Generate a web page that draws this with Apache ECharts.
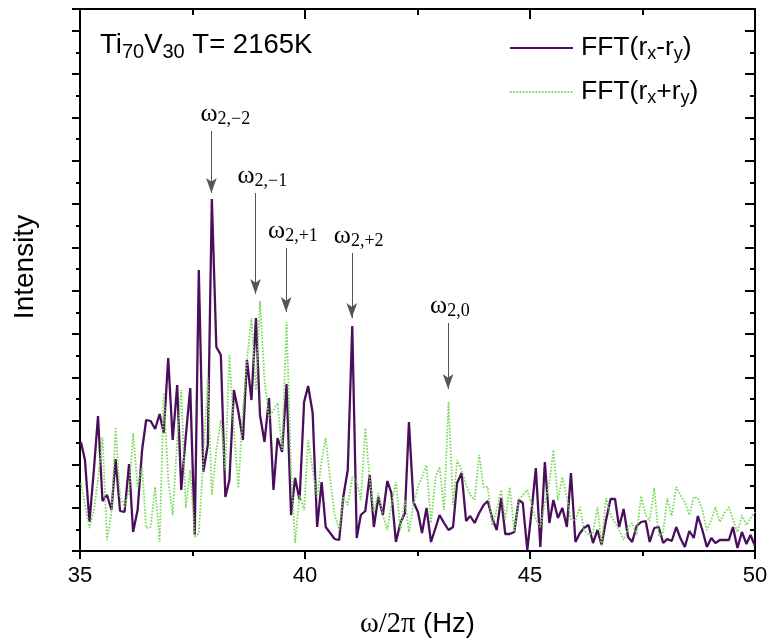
<!DOCTYPE html>
<html>
<head>
<meta charset="utf-8">
<script src="https://cdn.jsdelivr.net/npm/echarts@6/dist/echarts.min.js"></script>
<style>html,body{margin:0;padding:0;background:#fff}#c{width:769px;height:644px}</style>
</head>
<body>
<div id="c"></div>
<script>
// Frequency grid (Hz), read from the plotted vertices
const freq = [
35.02,35.11,35.21,35.31,35.40,35.50,35.60,35.70,35.79,35.89,
35.99,36.09,36.18,36.28,36.38,36.47,36.57,36.67,36.77,36.86,
36.96,37.06,37.16,37.25,37.35,37.45,37.55,37.64,37.74,37.84,
37.93,38.03,38.13,38.23,38.32,38.42,38.52,38.62,38.71,38.81,
38.91,39.00,39.10,39.20,39.30,39.39,39.49,39.59,39.69,39.78,
39.88,39.98,40.07,40.17,40.27,40.37,40.46,40.56,40.66,40.76,
40.85,40.95,41.05,41.15,41.24,41.34,41.44,41.53,41.63,41.73,
41.83,41.92,42.02,42.12,42.22,42.31,42.41,42.51,42.60,42.70,
42.80,42.90,42.99,43.09,43.19,43.29,43.38,43.48,43.58,43.67,
43.77,43.87,43.97,44.06,44.16,44.26,44.36,44.45,44.55,44.65,
44.75,44.84,44.94,45.04,45.13,45.23,45.33,45.43,45.52,45.62,
45.72,45.82,45.91,46.01,46.11,46.20,46.30,46.40,46.50,46.59,
46.69,46.79,46.89,46.98,47.08,47.18,47.27,47.37,47.47,47.57,
47.66,47.76,47.86,47.96,48.05,48.15,48.25,48.34,48.44,48.54,
48.64,48.73,48.83,48.93,49.03,49.12,49.22,49.32,49.42,49.51,
49.61,49.71,49.81,49.90,50.00
];
// FFT(rx-ry) intensity (arb. units)
const fftMinus = [
109,91,29,82,135,50,56,41,92,40,
39,87,19,41,101,131,130,122,137,118,
193,111,166,61,114,163,16,281,79,106,
352,204,196,54,71,161,139,111,191,151,
233,136,109,153,61,113,99,167,36,73,
51,149,165,138,24,69,24,18,12,11,
54,81,225,13,36,40,76,24,54,36,
70,58,9,28,38,129,49,39,18,43,
9,23,36,28,21,24,68,78,30,35,
28,38,46,50,33,21,53,17,17,19,
51,48,1,42,83,4,89,28,51,33,
43,24,78,9,18,23,26,8,21,6,
31,52,52,24,42,14,9,25,29,30,
9,23,24,8,12,10,24,13,4,20,
13,35,21,4,13,8,11,11,11,24,
3,19,7,16,5
];
// FFT(rx+ry) intensity (arb. units)
const fftPlus = [
68,46,23,41,71,114,11,38,124,54,
44,61,118,64,84,23,24,64,9,158,
71,36,111,161,43,81,14,18,91,173,
56,101,131,81,196,121,63,141,191,233,
161,250,171,133,141,148,101,229,81,8,
56,41,111,81,54,91,113,71,36,21,
54,46,74,69,51,123,71,39,58,36,
21,46,69,21,51,19,46,64,74,86,
28,73,84,41,149,46,91,81,66,56,
51,96,64,64,26,41,61,31,64,19,
51,56,61,46,31,24,48,68,101,51,
74,54,31,31,44,21,16,18,44,6,
53,36,28,21,11,23,28,16,55,36,
30,63,15,19,53,35,64,56,49,36,
54,53,41,21,31,44,29,38,44,31,
19,36,26,33,39
];
// Mode annotations
const peakSubs = ['2,−2','2,−1','2,+1','2,+2','2,0'];
const peakFreq = [37.92, 38.90, 39.58, 41.04, 43.18];
const arrowTop = [420, 358, 303, 298, 228];
const arrowTip = [358, 257, 239, 233, 162];
const labelShift = [-11, -18, -18, -18, -18];

const xTicks = {min: 35, max: 50, interval: 5};
const yRange = {min: 0, max: 542, major: 43.36, minor: 21.68};

const SANS = 'Liberation Sans';
const SERIF = 'Liberation Serif';
const BLACK = '#000';

const chart = echarts.init(document.getElementById('c'), null, {renderer: 'canvas'});

function yAx(pos, interval, len, inside, showLine) {
  return {
    type: 'value', position: pos, min: yRange.min, max: yRange.max, interval: interval,
    axisLine: {show: showLine, onZero: false, lineStyle: {color: BLACK, width: 2}},
    axisTick: {show: true, inside: inside, length: len, lineStyle: {color: BLACK, width: 2}},
    axisLabel: {show: false}, splitLine: {show: false}
  };
}

const option = {
  animation: false,
  backgroundColor: '#fff',
  grid: {left: 80, right: 14, top: 9, bottom: 93, containLabel: false, outerBoundsMode: 'none'},
  title: {
    text: 'Ti{s|70}V{s|30} T= 2165K',
    left: 100, top: 29, padding: 0,
    textStyle: {
      fontFamily: SANS, fontSize: 27.5, fontWeight: 'normal', color: BLACK, lineHeight: 33,
      rich: {s: {fontFamily: SANS, fontSize: 20, color: BLACK, lineHeight: 11, verticalAlign: 'bottom'}}
    }
  },
  legend: {
    data: ['FFT(rx-ry)', 'FFT(rx+ry)'],
    orient: 'vertical', left: 509, top: 33, padding: 0,
    itemWidth: 63, itemHeight: 14, itemGap: 14,
    itemStyle: {opacity: 0},
    formatter: function (n) { return n === 'FFT(rx-ry)' ? 'FFT(r{s|x}-r{s|y})' : 'FFT(r{s|x}+r{s|y})'; },
    textStyle: {
      fontFamily: SANS, fontSize: 26.5, color: BLACK, lineHeight: 30, padding: [0, 0, 0, 3],
      rich: {s: {fontFamily: SANS, fontSize: 18, color: BLACK, lineHeight: 18, verticalAlign: 'bottom'}}
    }
  },
  graphic: [{
    type: 'text', x: 25, y: 267, rotation: Math.PI / 2,
    style: {text: 'Intensity', fontFamily: SANS, fontSize: 28, fill: BLACK, align: 'center', verticalAlign: 'middle'}
  }],
  xAxis: [{
    type: 'value', position: 'bottom', min: xTicks.min, max: xTicks.max, interval: xTicks.interval,
    axisLine: {onZero: false, lineStyle: {color: BLACK, width: 2}},
    axisTick: {inside: false, length: 8, lineStyle: {color: BLACK, width: 2}},
    minorTick: {show: true, splitNumber: 2, length: 5, lineStyle: {color: BLACK, width: 2}},
    axisLabel: {fontFamily: SANS, fontSize: 22, color: BLACK, margin: 14},
    splitLine: {show: false}, minorSplitLine: {show: false},
    name: '{s|ω/2π} (Hz)', nameLocation: 'middle', nameGap: 59,
    nameTextStyle: {fontFamily: SANS, fontSize: 27.5, color: BLACK,
      rich: {s: {fontFamily: SERIF, fontSize: 28.5, color: BLACK}}}
  }, {
    type: 'value', position: 'top', min: xTicks.min, max: xTicks.max, interval: xTicks.interval,
    axisLine: {onZero: false, lineStyle: {color: BLACK, width: 2}},
    axisTick: {inside: true, length: 10, lineStyle: {color: BLACK, width: 2}},
    minorTick: {show: true, splitNumber: 2, length: 6, lineStyle: {color: BLACK, width: 2}},
    axisLabel: {show: false}, splitLine: {show: false}
  }],
  yAxis: [
    yAx('left', yRange.major, 8, false, true),
    yAx('left', yRange.minor, 4, false, false),
    yAx('right', yRange.major, 10, true, true),
    yAx('right', yRange.minor, 5, true, false)
  ],
  series: [{
    name: 'FFT(rx-ry)', type: 'line', symbol: 'none', xAxisIndex: 0, yAxisIndex: 0,
    data: freq.map((f, i) => [f, fftMinus[i]]),
    lineStyle: {color: '#4A0E5C', width: 2.3}, itemStyle: {color: '#4A0E5C'}, z: 3
  }, {
    name: 'FFT(rx+ry)', type: 'line', symbol: 'none', xAxisIndex: 0, yAxisIndex: 0,
    data: freq.map((f, i) => [f, fftPlus[i]]),
    lineStyle: {color: '#77D957', width: 1.8, type: [1.6, 1.6]}, itemStyle: {color: '#77D957'}, z: 4
  }, {
    name: 'annotations', type: 'line', data: [], xAxisIndex: 0, yAxisIndex: 0, silent: true,
    markLine: {
      silent: true, animation: false, symbol: ['none', 'arrow'], symbolSize: [8, 15],
      lineStyle: {color: '#555', width: 1, type: 'solid'}, label: {show: false},
      emphasis: {disabled: true},
      data: peakFreq.map((f, i) => [{coord: [f, arrowTop[i]]}, {coord: [f, arrowTip[i]]}])
    },
    markPoint: {
      silent: true, animation: false, symbol: 'circle', symbolSize: 0,
      itemStyle: {color: 'transparent'},
      label: {
        show: true, position: 'top', distance: 3, align: 'left', color: BLACK,
        formatter: function (p) { return '{w|ω}{s|' + p.name + '}'; },
        rich: {
          w: {fontFamily: SERIF, fontSize: 26, color: BLACK, lineHeight: 28},
          s: {fontFamily: SERIF, fontSize: 18, color: BLACK, lineHeight: 17, verticalAlign: 'bottom'}
        }
      },
      data: peakFreq.map((f, i) => ({name: peakSubs[i], coord: [f, arrowTop[i]], label: {offset: [labelShift[i], 0]}}))
    }
  }]
};
chart.setOption(option);
</script>
</body>
</html>
